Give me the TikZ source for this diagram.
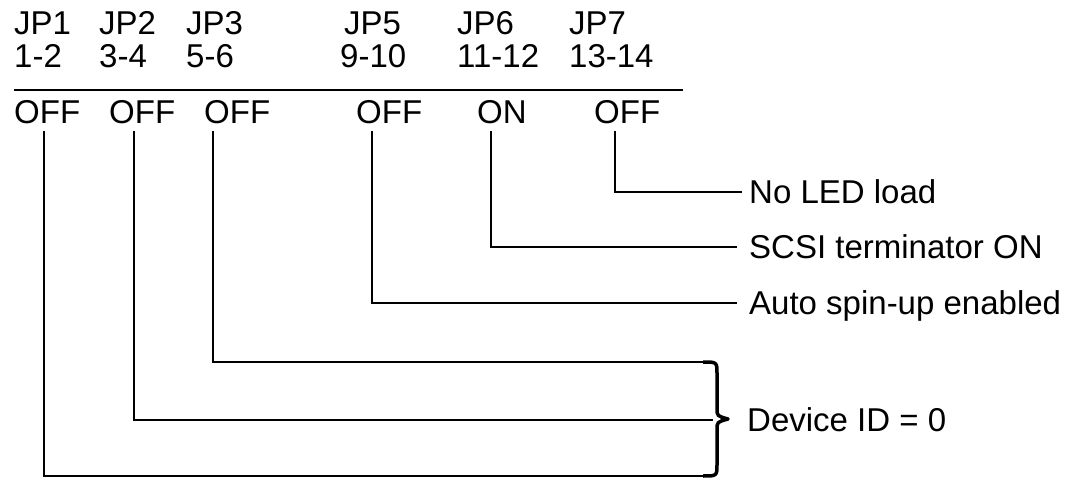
\documentclass[tikz,border=0pt]{standalone}
\usepackage{fontspec}
\setmainfont{Liberation Sans}
\begin{document}
\begin{tikzpicture}[x=1pt,y=-1pt,
  txt/.style={anchor=base west, inner sep=0pt, font=\fontsize{33}{39}\selectfont},
  wire/.style={line width=2pt},
  bracestyle/.style={line width=3.5pt, line join=round}]
\useasboundingbox[fill=white] (0,0) rectangle (1068,478);
% header row 1
\node[txt] (h1) at (14,35) {JP1};
\node[txt] (h2) at (99,35) {JP2};
\node[txt] (h3) at (186,35) {JP3};
\node[txt] (h5) at (344,35) {JP5};
\node[txt] (h6) at (457,35) {JP6};
\node[txt] (h7) at (569,35) {JP7};
% header row 2
\node[txt] (p1) at (14,68) {1-2};
\node[txt] (p2) at (99,68) {3-4};
\node[txt] (p3) at (186,68) {5-6};
\node[txt] (p5) at (340,68) {9-10};
\node[txt] (p6) at (457,68) {11-12};
\node[txt] (p7) at (569,68) {13-14};
% rule
\coordinate (r1) at (14,90);
\coordinate (r2) at (683,90);
\draw[wire] (r1) -- (r2);
% states
\node[txt] (s1) at (14,124) {OFF};
\node[txt] (s2) at (109,124) {OFF};
\node[txt] (s3) at (204,124) {OFF};
\node[txt] (s5) at (356,124) {OFF};
\node[txt] (s6) at (477,124) {ON};
\node[txt] (s7) at (594,124) {OFF};
% labels
\node[txt] (l7) at (749,204) {No LED load};
\node[txt] (l6) at (749,259) {SCSI terminator ON};
\node[txt] (l5) at (749,315) {Auto spin-up enabled};
\node[txt] (ld) at (747,431) {Device ID = 0};
% connector coordinates
\coordinate (a1) at (44,131);
\coordinate (a2) at (134,131);
\coordinate (a3) at (213,131);
\coordinate (a5) at (372,131);
\coordinate (a6) at (491,131);
\coordinate (a7) at (615,131);
\coordinate (b7) at (742,192);
\coordinate (b6) at (737,247);
\coordinate (b5) at (737,303);
\coordinate (b3) at (705,362);
\coordinate (b2) at (713,420);
\coordinate (b1) at (705,476);
\draw[wire] (a7) |- (b7);
\draw[wire] (a6) |- (b6);
\draw[wire] (a5) |- (b5);
\draw[wire] (a3) |- (b3);
\draw[wire] (a2) |- (b2);
\draw[wire] (a1) |- (b1);
% brace
\draw[bracestyle] (703,362) .. controls (717,362) .. (717,374) -- (717,408)
  .. controls (717,416) .. (728,419) .. controls (717,422) .. (717,430)
  -- (717,464) .. controls (717,476) .. (703,476);
\end{tikzpicture}
\end{document}
